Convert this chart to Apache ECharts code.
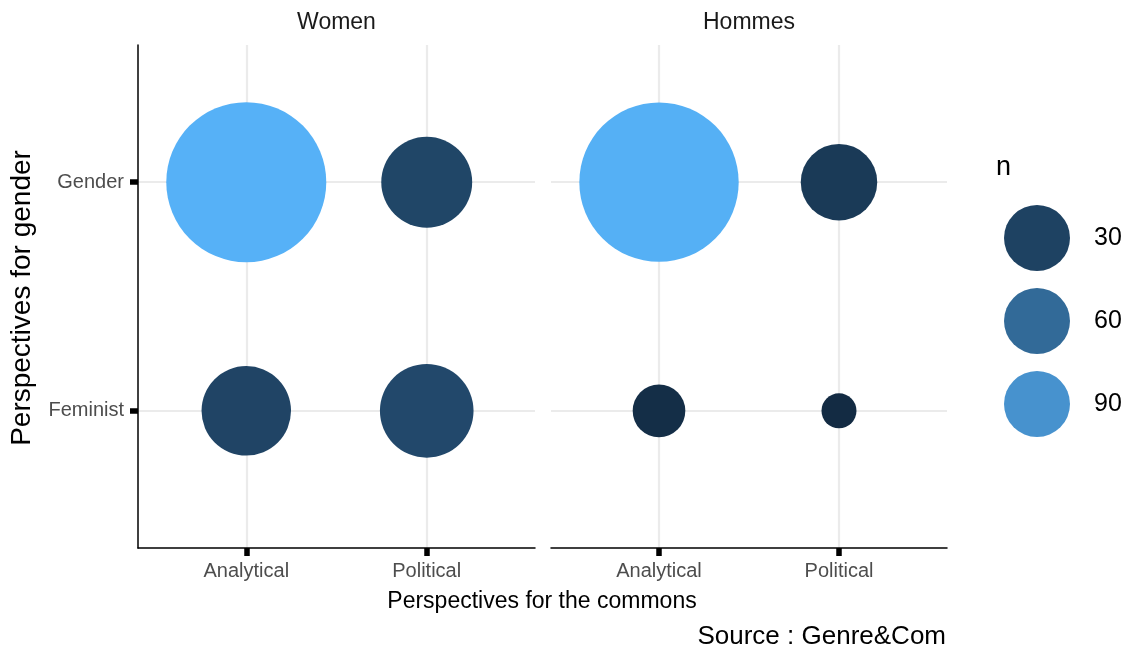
<!DOCTYPE html>
<html>
<head>
<meta charset="utf-8">
<script src="https://cdn.jsdelivr.net/npm/echarts@6/dist/echarts.min.js"></script>
<style>
html,body{margin:0;padding:0;background:#fff;}
#main{width:1127px;height:649px;}
</style>
</head>
<body>
<div id="main"></div>
<script>
// ---- data ----
const facets = ['Women', 'Hommes'];
const commons = ['Analytical', 'Political'];          // x categories
const genders = ['Feminist', 'Gender'];               // y categories (bottom to top)
const womenGender   = [113, 33];   // Analytical, Political
const womenFeminist = [32, 35];
const hommesGender  = [112, 24];
const hommesFeminist = [15, 13];
const legendBreaks = [30, 60, 90];
const axisTitleX = 'Perspectives for the commons';
const axisTitleY = 'Perspectives for gender';
const caption = 'Source : Genre&Com';
const legendTitle = 'n';

// ---- scales ----
const allN = womenGender.concat(womenFeminist, hommesGender, hommesFeminist);
const nMin = Math.min.apply(null, allN);
const nMax = Math.max.apply(null, allN);
const colorLow = '#132B43', colorHigh = '#56B1F7';
function colorOf(v) {
  const t = Math.max(0, Math.min(1, (v - nMin) / (nMax - nMin)));
  return echarts.color.lerp(t, [colorLow, colorHigh]);
}
function sizeOf(v) {
  const t = Math.max(0, (v - nMin) / (nMax - nMin));
  return 35 + 125 * Math.sqrt(t);   // diameter in px (area scale)
}
function facetData(genderVals, feministVals) {
  const out = [];
  commons.forEach(function (c, i) {
    out.push([i + 1, genders.indexOf('Gender') + 1, genderVals[i]]);
    out.push([i + 1, genders.indexOf('Feminist') + 1, feministVals[i]]);
  });
  return out;
}
const facetSeries = [facetData(womenGender, womenFeminist), facetData(hommesGender, hommesFeminist)];

const chart = echarts.init(document.getElementById('main'), null, {renderer: 'canvas'});
const FONT = 'Liberation Sans, Arial, sans-serif';
const gridCol = '#ebebeb';

function xAxisOf(idx) {
  return {
    type: 'value', gridIndex: idx, min: 0.4, max: 2.6,
    axisLine: {show: true, onZero: false, lineStyle: {color: '#000', width: 1.5}},
    axisTick: {show: true, customValues: [1, 2], length: 8, lineStyle: {color: '#000', width: 5.5}},
    axisLabel: {show: true, customValues: [1, 2], margin: 13, fontSize: 20, color: '#4d4d4d', fontFamily: FONT,
      formatter: function (v) { return commons[Math.round(v) - 1] || ''; }},
    splitLine: {show: true, lineStyle: {color: gridCol, width: 2.2}}
  };
}
function yAxisOf(idx, showAxis) {
  return {
    type: 'value', gridIndex: idx, min: 0.4, max: 2.6,
    axisLine: {show: showAxis, onZero: false, lineStyle: {color: '#000', width: 1.5}},
    axisTick: {show: showAxis, customValues: [1, 2], length: 8, lineStyle: {color: '#000', width: 5.5}},
    axisLabel: {show: showAxis, customValues: [1, 2], margin: 14, fontSize: 20, color: '#4d4d4d', fontFamily: FONT,
      formatter: function (v) { return genders[Math.round(v) - 1] || ''; }},
    splitLine: {show: true, lineStyle: {color: gridCol, width: 2.2}}
  };
}

const grids = [
  {left: 138, top: 45, width: 397, height: 503, outerBoundsMode: 'none'},
  {left: 551, top: 45, width: 396, height: 503, outerBoundsMode: 'none'}
];

const series = facetSeries.map(function (d, i) {
  return {
    type: 'scatter', xAxisIndex: i, yAxisIndex: i,
    data: d,
    symbolSize: function (val) { return sizeOf(val[2]); },
    itemStyle: {opacity: 1, color: function (p) { return colorOf(p.value[2]); }},
    emphasis: {disabled: true},
    z: 3
  };
});

const graphics = [];
// strip labels
const stripX = [(138 + 535) / 2, (551 + 947) / 2];
facets.forEach(function (f, i) {
  graphics.push({type: 'text', x: stripX[i], y: 23,
    style: {text: f, font: '23px ' + FONT, fill: '#1a1a1a', textAlign: 'center', textVerticalAlign: 'middle'}});
});
graphics.push({type: 'text', x: 542, y: 602,
  style: {text: axisTitleX, font: '23px ' + FONT, fill: '#000', textAlign: 'center', textVerticalAlign: 'middle'}});
graphics.push({type: 'text', x: 22, y: 298, rotation: Math.PI / 2,
  style: {text: axisTitleY, font: '28px ' + FONT, fill: '#000', textAlign: 'center', textVerticalAlign: 'middle'}});
graphics.push({type: 'text', x: 946, y: 637,
  style: {text: caption, font: '26px ' + FONT, fill: '#000', textAlign: 'right', textVerticalAlign: 'middle'}});
// legend
graphics.push({type: 'text', x: 996, y: 168,
  style: {text: legendTitle, font: '27px ' + FONT, fill: '#000', textAlign: 'left', textVerticalAlign: 'middle'}});
legendBreaks.forEach(function (b, i) {
  const cy = 238 + i * 83;
  graphics.push({type: 'circle', shape: {cx: 1037, cy: cy, r: 33}, style: {fill: colorOf(b)}});
  graphics.push({type: 'text', x: 1094, y: cy,
    style: {text: String(b), font: '25px ' + FONT, fill: '#000', textAlign: 'left', textVerticalAlign: 'middle'}});
});

chart.setOption({
  backgroundColor: '#ffffff',
  animation: false,
  grid: grids,
  xAxis: [xAxisOf(0), xAxisOf(1)],
  yAxis: [yAxisOf(0, true), yAxisOf(1, false)],
  series: series,
  graphic: graphics
});
</script>
</body>
</html>
